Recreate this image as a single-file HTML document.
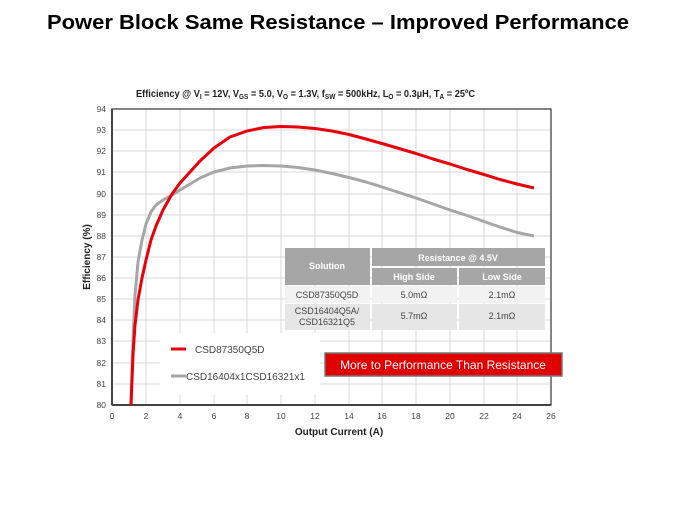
<!DOCTYPE html>
<html><head><meta charset="utf-8"><style>
body{margin:0;background:#fff;width:674px;height:506px;overflow:hidden;font-family:"Liberation Sans",sans-serif}
</style></head><body>
<svg width="674" height="506" viewBox="0 0 674 506" xmlns="http://www.w3.org/2000/svg" font-family="Liberation Sans, sans-serif">
<text x="47" y="29" textLength="582" lengthAdjust="spacingAndGlyphs" font-size="20" font-weight="bold" fill="#000">Power Block Same Resistance – Improved Performance</text>
<text x="136" y="97" textLength="339" lengthAdjust="spacingAndGlyphs" font-size="10" font-weight="bold" fill="#222">Efficiency @ V<tspan font-size="7" dy="2">I</tspan><tspan dy="-2"> = 12V, V</tspan><tspan font-size="7" dy="2">GS</tspan><tspan dy="-2"> = 5.0, V</tspan><tspan font-size="7" dy="2">O</tspan><tspan dy="-2"> = 1.3V, f</tspan><tspan font-size="7" dy="2">SW</tspan><tspan dy="-2"> = 500kHz, L</tspan><tspan font-size="7" dy="2">O</tspan><tspan dy="-2"> = 0.3µH, T</tspan><tspan font-size="7" dy="2">A</tspan><tspan dy="-2"> = 25ºC</tspan></text>
<g stroke="#d9d9d9" stroke-width="1">
<line x1="146" y1="109" x2="146" y2="405"/><line x1="180" y1="109" x2="180" y2="405"/><line x1="214" y1="109" x2="214" y2="405"/><line x1="247" y1="109" x2="247" y2="405"/><line x1="281" y1="109" x2="281" y2="405"/><line x1="315" y1="109" x2="315" y2="405"/><line x1="349" y1="109" x2="349" y2="405"/><line x1="382" y1="109" x2="382" y2="405"/><line x1="416" y1="109" x2="416" y2="405"/><line x1="450" y1="109" x2="450" y2="405"/><line x1="484" y1="109" x2="484" y2="405"/><line x1="517" y1="109" x2="517" y2="405"/>
<line x1="112" y1="130" x2="551" y2="130"/><line x1="112" y1="151" x2="551" y2="151"/><line x1="112" y1="172" x2="551" y2="172"/><line x1="112" y1="194" x2="551" y2="194"/><line x1="112" y1="215" x2="551" y2="215"/><line x1="112" y1="236" x2="551" y2="236"/><line x1="112" y1="257" x2="551" y2="257"/><line x1="112" y1="278" x2="551" y2="278"/><line x1="112" y1="299" x2="551" y2="299"/><line x1="112" y1="320" x2="551" y2="320"/><line x1="112" y1="341" x2="551" y2="341"/><line x1="112" y1="363" x2="551" y2="363"/><line x1="112" y1="384" x2="551" y2="384"/>
</g>
<rect x="112" y="109" width="439" height="296" fill="none" stroke="#333" stroke-width="1.2"/>
<line x1="112" y1="405" x2="551" y2="405" stroke="#444" stroke-width="2"/>
<line x1="112" y1="109" x2="112" y2="405" stroke="#444" stroke-width="2"/>
<g font-size="8.5" fill="#444" text-anchor="end">
<text x="106" y="112">94</text><text x="106" y="133">93</text><text x="106" y="154">92</text><text x="106" y="175">91</text><text x="106" y="197">90</text><text x="106" y="218">89</text><text x="106" y="239">88</text><text x="106" y="260">87</text><text x="106" y="281">86</text><text x="106" y="302">85</text><text x="106" y="323">84</text><text x="106" y="344">83</text><text x="106" y="366">82</text><text x="106" y="387">81</text><text x="106" y="408">80</text>
</g>
<g font-size="8.5" fill="#444" text-anchor="middle">
<text x="112" y="419">0</text><text x="146" y="419">2</text><text x="180" y="419">4</text><text x="214" y="419">6</text><text x="247" y="419">8</text><text x="281" y="419">10</text><text x="315" y="419">12</text><text x="349" y="419">14</text><text x="382" y="419">16</text><text x="416" y="419">18</text><text x="450" y="419">20</text><text x="484" y="419">22</text><text x="517" y="419">24</text><text x="551" y="419">26</text>
</g>
<text x="339" y="435" text-anchor="middle" font-size="10" font-weight="bold" fill="#222">Output Current (A)</text>
<text transform="translate(90,257) rotate(-90)" text-anchor="middle" font-size="10" font-weight="bold" fill="#222">Efficiency (%)</text>
<polyline fill="none" stroke="#a6a6a6" stroke-width="3" stroke-linejoin="round" points="131,405 133,340 135,295 138,262 142,240 146,224 151,212 156,205 163,200 172,195 180,190 190,184 200,178 214,172 230,168 247,166 264,165.5 281,166 298,167.5 315,170 332,173.5 349,177.5 366,182 382,187 399,192.5 416,198 433,204 450,210 467,215.5 484,221.5 500,227 517,232.5 534,236"/>
<polyline fill="none" stroke="#e8000b" stroke-width="3" stroke-linejoin="round" points="131,405 133,355 135,325 138,300 142,278 146,260 151,240 156,226 163,210 172,194 180,183 190,172 200,161 214,148 230,137 247,131 264,127.5 281,126.5 298,127 315,128.5 332,131 349,134.5 366,139 382,143.5 399,148.5 416,153.5 433,159 450,164 467,169.5 484,174.5 500,179.5 517,184 534,188"/>
<rect x="160" y="333" width="160" height="62" fill="#fff"/>
<line x1="171" y1="349" x2="186" y2="349" stroke="#e8000b" stroke-width="3"/>
<text x="195" y="353" font-size="10" fill="#444">CSD87350Q5D</text>
<line x1="171" y1="376" x2="186" y2="376" stroke="#a6a6a6" stroke-width="3"/>
<text x="186" y="380" font-size="10" fill="#444">CSD16404x1CSD16321x1</text>
<g font-size="9">
<rect x="285" y="248" width="85" height="37" fill="#a6a6a6"/>
<rect x="372" y="248" width="173" height="18" fill="#a6a6a6"/>
<rect x="372" y="268" width="85" height="17" fill="#a6a6a6"/>
<rect x="459" y="268" width="86" height="17" fill="#a6a6a6"/>
<rect x="285" y="286" width="85" height="17" fill="#f2f2f2"/>
<rect x="372" y="286" width="85" height="17" fill="#f2f2f2"/>
<rect x="459" y="286" width="86" height="17" fill="#f2f2f2"/>
<rect x="285" y="304" width="85" height="26" fill="#e6e6e6"/>
<rect x="372" y="304" width="85" height="26" fill="#e6e6e6"/>
<rect x="459" y="304" width="86" height="26" fill="#e6e6e6"/>
<g fill="#fff" font-weight="bold" text-anchor="middle">
<text x="327" y="269">Solution</text><text x="458" y="261">Resistance @ 4.5V</text><text x="414" y="280">High Side</text><text x="502" y="280">Low Side</text>
</g>
<g fill="#444" text-anchor="middle">
<text x="327" y="298">CSD87350Q5D</text><text x="414" y="298">5.0mΩ</text><text x="502" y="298">2.1mΩ</text>
<text x="327" y="314">CSD16404Q5A/</text><text x="327" y="325">CSD16321Q5</text><text x="414" y="319">5.7mΩ</text><text x="502" y="319">2.1mΩ</text>
</g>
</g>
<rect x="325" y="353" width="237" height="23" fill="#e00000" stroke="#777" stroke-width="1.5"/>
<text x="443" y="369" text-anchor="middle" font-size="12" fill="#fff">More to Performance Than Resistance</text>
</svg>
</body></html>
